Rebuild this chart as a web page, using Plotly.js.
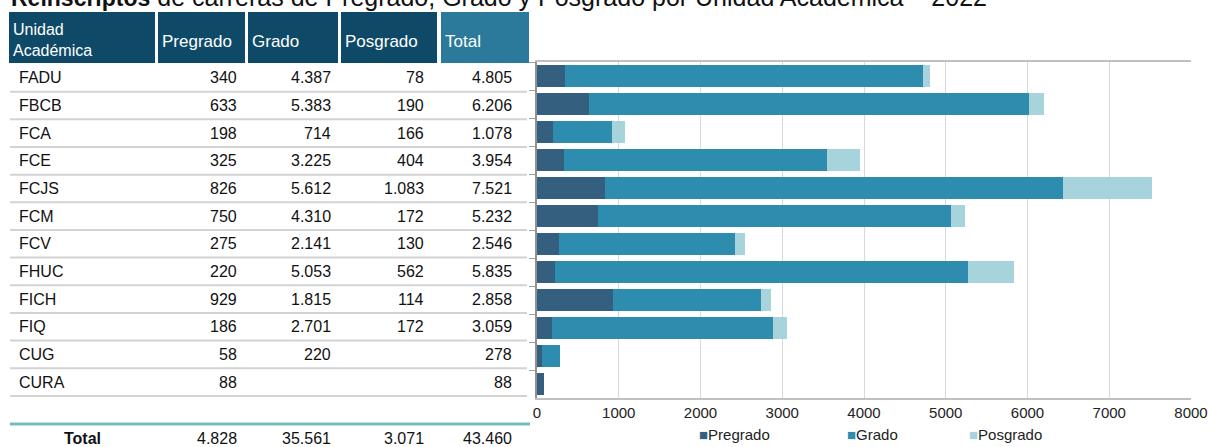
<!DOCTYPE html>
<html>
<head>
<meta charset="utf-8">
<script src="https://cdn.plot.ly/plotly-3.0.1.min.js"></script>
<style>html,body{margin:0;padding:0;background:#fff;}#chart{width:1208px;height:447px;}</style>
</head>
<body>
<div id="chart"></div>
<script>
// ---- data ----
const categories = ['FADU','FBCB','FCA','FCE','FCJS','FCM','FCV','FHUC','FICH','FIQ','CUG','CURA'];
const pregrado = [340,633,198,325,826,750,275,220,929,186,58,88];
const grado    = [4387,5383,714,3225,5612,4310,2141,5053,1815,2701,220,null];
const posgrado = [78,190,166,404,1083,172,130,562,114,172,null,null];
const seriesNames = ['Pregrado','Grado','Posgrado'];
const headerLabels = ['Unidad<br>Académica','Pregrado','Grado','Posgrado','Total'];
const titleBold = 'Reinscriptos';
const titleRest = ' de carreras de Pregrado, Grado y Posgrado por Unidad Académica – 2022';

const colors = {Pregrado:'#355f7e', Grado:'#2e8cae', Posgrado:'#a6d3dc'};

// ---- geometry (pixels) ----
const W = 1208, H = 447;
const PL = 537, PR = 1191, PT = 62, PB = 398;
const px = x => (x - PL) / (PR - PL);
const py = y => (PB - y) / (PB - PT);

const fmt = v => (v === null || v === undefined) ? '' :
  String(v).replace(/\B(?=(\d{3})+(?!\d))/g, '.');
const sum = a => a.reduce((s, v) => s + (v || 0), 0);

const rowTotals = categories.map((_, i) => (pregrado[i]||0) + (grado[i]||0) + (posgrado[i]||0));

const font = 'Arial, "Liberation Sans", sans-serif';
const shapes = [];
const annotations = [];

function rect(x0, y0, x1, y1, color) {
  shapes.push({type:'rect', xref:'paper', yref:'paper', x0:px(x0), x1:px(x1), y0:py(y1), y1:py(y0),
    fillcolor:color, line:{width:0}, layer:'above'});
}
function hline(x0, x1, y, color, w) {
  shapes.push({type:'line', xref:'paper', yref:'paper', x0:px(x0), x1:px(x1), y0:py(y), y1:py(y),
    line:{color:color, width:w}, layer:'above'});
}
function text(t, x, y, anchor, opts) {
  opts = opts || {};
  annotations.push({text:t, xref:'paper', yref:'paper', x:px(x), y:py(y), xanchor:anchor, yanchor:'middle',
    showarrow:false, font:{family:font, size:opts.size||16, color:opts.color||'#111'}, align:anchor==='right'?'right':'left'});
}

// title (clipped at top, as in reference)
annotations.push({text:'<b>'+titleBold+'</b><span style="font-size:25px">'+titleRest+'</span>', xref:'paper', yref:'paper', x:px(9), y:py(13),
  xanchor:'left', yanchor:'bottom', showarrow:false, font:{family:font, size:23, color:'#111'}});

// header
const headCols = [[9,155],[158,245],[248,338],[341,437],[441,529]];
headCols.forEach((c, i) => {
  rect(c[0], 12, c[1], 63, i === 4 ? '#2b7a9b' : '#0e4a67');
  text(headerLabels[i], c[0] + 2, i === 0 ? 40 : 41, 'left', {color:'#ffffff', size:i === 0 ? 16 : 17});
});

// body rows
const rowTop = 64, pitch = 27.66;
const valRight = [237, 331, 424, 512];
categories.forEach((cat, i) => {
  const yc = rowTop + pitch * i + pitch / 2;
  text(cat, 17, yc, 'left');
  [pregrado[i], grado[i], posgrado[i], rowTotals[i]].forEach((v, j) => {
    if (v !== null && v !== undefined) text(fmt(v), valRight[j] + 2, yc, 'right');
  });
  hline(10, 527, rowTop + pitch * (i + 1), '#d3d3d3', 2);
});

// total row
hline(10, 530, 424, '#73bdc0', 3);
text('<b>Total</b>', 82, 438, 'center');
annotations[annotations.length-1].xanchor = 'center';
[sum(pregrado), sum(grado), sum(posgrado), sum(rowTotals)].forEach((v, j) => text(fmt(v), valRight[j] + 2, 438, 'right'));

// legend (custom, centred under chart)
const legX = [697, 845, 967];
seriesNames.forEach((n, i) => {
  annotations.push({text:'<span style="color:'+colors[n]+'">■</span>'+n, xref:'paper', yref:'paper',
    x:px(legX[i]), y:py(434), xanchor:'left', yanchor:'middle', showarrow:false,
    font:{family:font, size:15, color:'#222'}});
});

const series = [pregrado, grado, posgrado];
const traces = seriesNames.map((n, i) => ({
  type:'bar', orientation:'h', name:n, y:categories, x:series[i],
  marker:{color:colors[n], line:{width:0}}, hoverinfo:'x+y+name'
}));

const layout = {
  width:W, height:H,
  margin:{l:PL, r:W-PR, t:PT, b:H-PB, pad:0},
  paper_bgcolor:'#ffffff', plot_bgcolor:'#ffffff',
  barmode:'stack', bargap:0.21, showlegend:false,
  xaxis:{range:[0,8000], dtick:1000, tick0:0, showgrid:true, gridcolor:'#d9d9d9', gridwidth:1,
    showline:true, linecolor:'#c0c0c0', linewidth:2, mirror:true, zeroline:false, ticks:'',
    tickfont:{family:font, size:15, color:'#222'}, fixedrange:true},
  yaxis:{type:'category', autorange:'reversed', tickson:'boundaries', ticks:'outside', ticklen:6,
    tickcolor:'#a0a0a0', showticklabels:false, showgrid:false, showline:true, linecolor:'#909090',
    linewidth:2, zeroline:false, fixedrange:true},
  shapes:shapes, annotations:annotations,
  font:{family:font}
};

Plotly.newPlot('chart', traces, layout, {displayModeBar:false, staticPlot:true});
</script>
</body>
</html>
